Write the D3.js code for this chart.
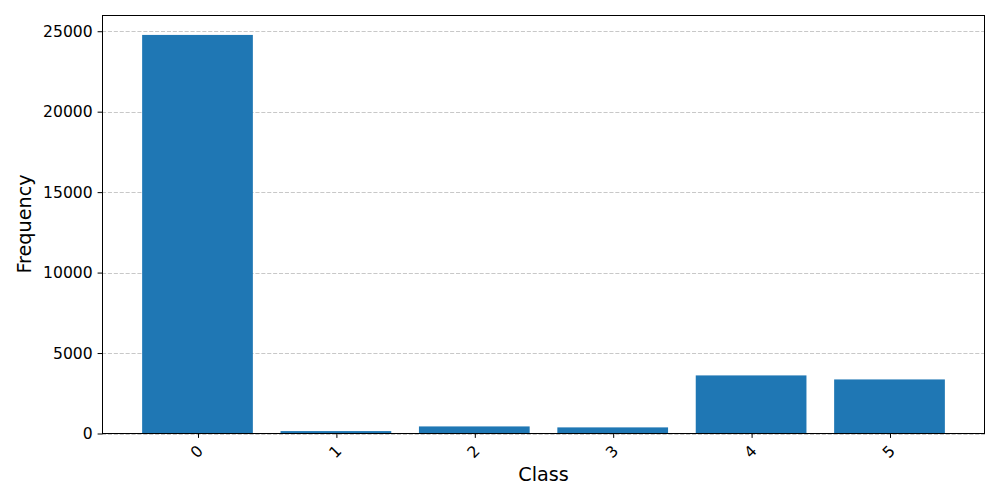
<!DOCTYPE html>
<html><head><meta charset="utf-8">
<script src="https://cdn.jsdelivr.net/npm/d3@7"></script>
<style>body{margin:0;background:#fff}svg{display:block}text{font-family:"DejaVu Sans",sans-serif}</style>
</head><body><svg id="c" width="1000" height="500"></svg>
<script>
const categories = ["0","1","2","3","4","5"];
const values = [24770, 150, 440, 380, 3610, 3360];
const yTicks = [0, 5000, 10000, 15000, 20000, 25000];

const svg = d3.select("#c");
const L = 102, R = 985, T = 15, B = 433.5;
const TICK_FS = 15.6, LABEL_FS = 19.2;
const x = d3.scaleLinear().domain([-0.69, 5.69]).range([L, R]);
const y = d3.scaleLinear().domain([0, d3.max(values) * 1.05]).range([B, T]);

// grid
svg.append("g").selectAll("line").data(yTicks).join("line")
  .attr("x1", L).attr("x2", R)
  .attr("y1", d => Math.round(y(d)) + 0.5).attr("y2", d => Math.round(y(d)) + 0.5)
  .attr("stroke", "#b0b0b0").attr("stroke-opacity", 0.7).attr("stroke-width", 1)
  .attr("stroke-dasharray", "4.1,1.8");

// bars
svg.append("g").selectAll("rect").data(values).join("rect")
  .attr("x", (d, i) => x(i - 0.4)).attr("width", (d, i) => x(i + 0.4) - x(i - 0.4))
  .attr("y", d => y(d)).attr("height", d => B - y(d))
  .attr("fill", "#1f77b4");

// frame
svg.append("rect").attr("x", L + 0.5).attr("y", T + 0.5).attr("width", R - L - 1).attr("height", 433 - T)
  .attr("fill", "none").attr("stroke", "#000").attr("stroke-width", 1);

// y axis
const ya = d3.axisLeft(y).tickValues(yTicks).tickSize(4.9).tickPadding(4.9).tickFormat(d3.format("d"));
svg.append("g").attr("transform", `translate(${L + 0.5},0)`).call(ya)
  .call(g => g.select(".domain").remove())
  .call(g => g.selectAll("text").attr("font-size", TICK_FS).attr("font-family", "DejaVu Sans").attr("fill", "#000"))
  .call(g => g.selectAll("line").attr("stroke", "#000"));

// x axis
const xa = d3.axisBottom(x).tickValues(d3.range(categories.length)).tickSize(4.9).tickFormat(i => categories[i]);
const gx = svg.append("g").attr("transform", `translate(0.5,433)`).call(xa);
gx.select(".domain").remove();
gx.selectAll("line").attr("stroke", "#000");
gx.selectAll("text").attr("font-size", TICK_FS).attr("font-family", "DejaVu Sans").attr("fill", "#000")
  .attr("dy", null).attr("y", 0).attr("text-anchor", "middle").attr("dominant-baseline", "central")
  .attr("transform", "translate(-1.5,19) rotate(-45)");

// labels
svg.append("text").attr("x", (L + R) / 2).attr("y", 481).attr("text-anchor", "middle")
  .attr("font-size", LABEL_FS).text("Class");
svg.append("text").attr("transform", `translate(30.5,${(T + 433) / 2}) rotate(-90)`).attr("text-anchor", "middle")
  .attr("font-size", LABEL_FS).text("Frequency");
</script></body></html>
